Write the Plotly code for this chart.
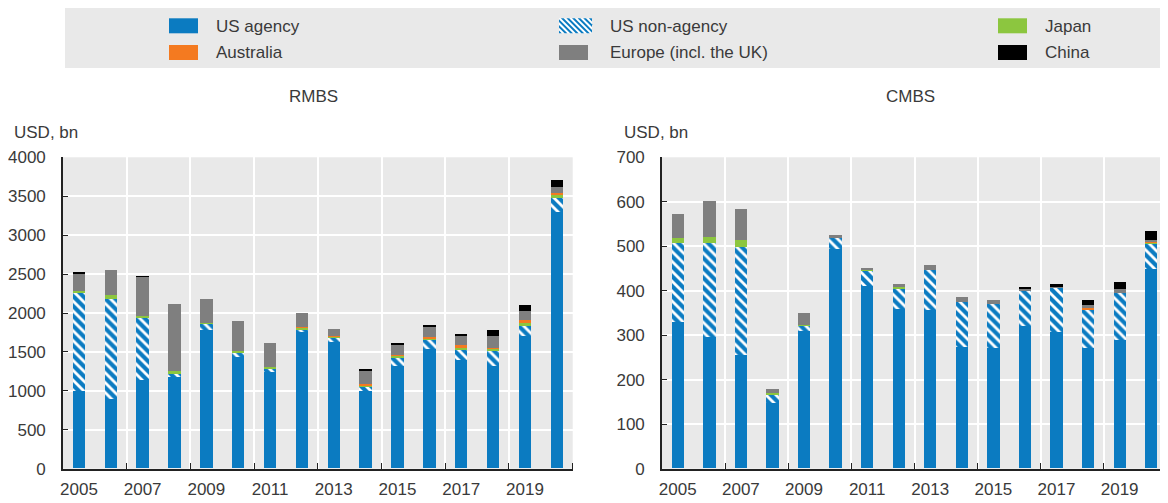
import plotly.graph_objects as go

# ---------------- data ----------------
years = list(range(2005, 2021))
tick_years = [2005, 2007, 2009, 2011, 2013, 2015, 2017, 2019]

series_names = ["US agency", "US non-agency", "Japan", "Australia", "Europe (incl. the UK)", "China"]

rmbs_us_agency = [990, 890, 1140, 1180, 1775, 1430, 1240, 1760, 1630, 990, 1320, 1540, 1395, 1320, 1705, 3290]
rmbs_us_non_agency = [1260, 1290, 800, 45, 80, 60, 45, 15, 45, 65, 110, 115, 130, 185, 130, 180]
rmbs_japan = [30, 45, 20, 20, 15, 15, 20, 35, 13, 13, 17, 13, 25, 40, 35, 40]
rmbs_australia = [0, 0, 0, 0, 0, 0, 0, 5, 15, 20, 15, 25, 38, 5, 30, 30]
rmbs_europe = [225, 325, 500, 870, 310, 390, 305, 185, 90, 170, 135, 125, 125, 145, 125, 75]
rmbs_china = [8, 0, 10, 0, 0, 0, 0, 0, 0, 17, 17, 17, 17, 80, 80, 85]

cmbs_us_agency = [330, 295, 255, 148, 309, 493, 411, 359, 357, 273, 270, 321, 306, 270, 288, 449]
cmbs_us_non_agency = [176, 211, 242, 18, 12, 24, 32, 46, 89, 101, 100, 78, 100, 87, 107, 57]
cmbs_japan = [11, 15, 17, 4, 1, 0, 5, 2, 0, 0, 0, 0, 0, 0, 0, 2]
cmbs_australia = [0, 0, 0, 0, 0, 0, 0, 0, 0, 0, 0, 0, 0, 3, 0, 3]
cmbs_europe = [55, 79, 69, 8, 28, 8, 3, 7, 12, 12, 8, 5, 2, 8, 8, 2]
cmbs_china = [0, 0, 0, 0, 0, 0, 0, 0, 0, 0, 0, 4, 6, 10, 15, 20]

# ---------------- style ----------------
# The page body has an 8px margin, so the figure starts at (8, 8) of the window.
OFF = 8
W, H = 1168 - OFF, 503 - OFF
FONT = "Liberation Sans Narrow, Arial Narrow, Liberation Sans, Arial, sans-serif"
FS = 17
TXT = "#3a3a3a"
BG = "#e9e9e9"
BLUE = "#0b7bc1"
ORANGE = "#f47a20"
GREEN = "#8cc63f"
GRAY = "#7f7f7f"
BLACK = "#000000"
colors = [BLUE, None, GREEN, ORANGE, GRAY, BLACK]


def px_x(p):
    return (p - OFF) / W


def px_y(p):
    return 1 - (p - OFF) / H


fig = go.Figure()

panels = [
    ("x", "y", [rmbs_us_agency, rmbs_us_non_agency, rmbs_japan, rmbs_australia, rmbs_europe, rmbs_china]),
    ("x2", "y2", [cmbs_us_agency, cmbs_us_non_agency, cmbs_japan, cmbs_australia, cmbs_europe, cmbs_china]),
]
for xa, ya, vals in panels:
    for name, col, v in zip(series_names, colors, vals):
        if col is None:
            marker = dict(color="white",
                          pattern=dict(shape="\\", fgcolor=BLUE, bgcolor="white", size=7, solidity=0.6),
                          line=dict(width=0))
        else:
            marker = dict(color=col, line=dict(width=0))
        fig.add_trace(go.Bar(x=years, y=v, name=name, marker=marker, width=0.39,
                             xaxis=xa, yaxis=ya, showlegend=False))

xdom1 = [px_x(63), px_x(572.7)]
xdom2 = [px_x(662), min(1.0, px_x(1167))]
ydom = [px_y(468.7), px_y(157.3)]

common_x = dict(
    type="linear", range=[2004.5, 2020.5], tickmode="array", tickvals=tick_years,
    ticktext=[str(t) for t in tick_years], showgrid=False, ticks="",
    showline=True, linecolor="#222222", linewidth=1.6, zeroline=False, automargin=False,
    tickfont=dict(family=FONT, size=FS, color=TXT), ticklabelstandoff=4,
    minor=dict(tickmode="array", tickvals=[y + 0.5 for y in range(2006, 2021, 2)],
               showgrid=True, gridcolor="white", gridwidth=1.6,
               ticks="inside", ticklen=6, tickcolor="#222222", tickwidth=1.4),
    fixedrange=True,
)
common_y = dict(
    showgrid=True, gridcolor="white", gridwidth=1.6, zeroline=False, automargin=False,
    showline=True, linecolor="#222222", linewidth=1.6,
    ticks="inside", ticklen=5, tickcolor="#222222", tickwidth=1.4,
    tickfont=dict(family=FONT, size=FS, color=TXT), ticklabelstandoff=12,
    fixedrange=True,
)

fig.update_layout(
    template="none",
    width=W, height=H, margin=dict(l=0, r=0, t=0, b=0, pad=0),
    paper_bgcolor="white", plot_bgcolor=BG, barmode="stack", bargap=0,
    showlegend=False,
    font=dict(family=FONT, size=FS, color=TXT),
    xaxis=dict(domain=xdom1, anchor="y", **common_x),
    yaxis=dict(domain=ydom, anchor="x", range=[0, 4000], dtick=500, **common_y),
    xaxis2=dict(domain=xdom2, anchor="y2", **common_x),
    yaxis2=dict(domain=ydom, anchor="x2", range=[0, 700], dtick=100, **common_y),
)

# ---------------- titles ----------------
ann = []
ann.append(dict(text="RMBS", x=px_x(313), y=px_y(96), xref="paper", yref="paper",
                xanchor="center", yanchor="middle", showarrow=False))
ann.append(dict(text="CMBS", x=px_x(910), y=px_y(96), xref="paper", yref="paper",
                xanchor="center", yanchor="middle", showarrow=False))
ann.append(dict(text="USD, bn", x=px_x(12), y=px_y(132), xref="paper", yref="paper",
                xanchor="left", yanchor="middle", showarrow=False))
ann.append(dict(text="USD, bn", x=px_x(622), y=px_y(132), xref="paper", yref="paper",
                xanchor="left", yanchor="middle", showarrow=False))

# ---------------- legend (drawn manually) ----------------
shapes = []
shapes.append(dict(type="rect", xref="paper", yref="paper", x0=px_x(65), x1=1.0,
                   y0=px_y(68), y1=1.0, fillcolor=BG, line=dict(width=0), layer="below"))

legend_items = [
    ("US agency", BLUE, 169, 214, 0),
    ("US non-agency", None, 559, 608, 0),
    ("Japan", GREEN, 998, 1043, 0),
    ("Australia", ORANGE, 169, 214, 1),
    ("Europe (incl. the UK)", GRAY, 559, 608, 1),
    ("China", BLACK, 998, 1043, 1),
]
row_top = [18.3, 45.0]
row_mid = [26.0, 52.5]
SW_W, SW_H = 29, 15


def clip(poly, f):
    out = []
    n = len(poly)
    for i in range(n):
        a = poly[i]
        b = poly[(i + 1) % n]
        fa, fb = f(a), f(b)
        if fa >= 0:
            out.append(a)
        if (fa >= 0) != (fb >= 0):
            t = fa / (fa - fb)
            out.append((a[0] + t * (b[0] - a[0]), a[1] + t * (b[1] - a[1])))
    return out


for label, col, sx, tx, row in legend_items:
    y0 = row_top[row]
    y1 = y0 + SW_H
    x0, x1 = sx, sx + (SW_W if col is not None else 33)
    if col is not None:
        shapes.append(dict(type="rect", xref="paper", yref="paper", x0=px_x(x0), x1=px_x(x1),
                           y0=px_y(y1), y1=px_y(y0), fillcolor=col, line=dict(width=0)))
    else:
        shapes.append(dict(type="rect", xref="paper", yref="paper", x0=px_x(x0), x1=px_x(x1),
                           y0=px_y(y1), y1=px_y(y0), fillcolor="white", line=dict(width=0)))
        period = 5.6
        band = period * 0.5
        rect = [(x0, y0), (x1, y0), (x1, y1), (x0, y1)]
        c = (x0 - y1) - period
        while c < (x1 - y0) + period:
            cc = c
            poly = clip(rect, lambda p, cc=cc: (p[0] - p[1]) - cc)
            poly = clip(poly, lambda p, cc=cc: cc + band - (p[0] - p[1])) if poly else []
            if len(poly) >= 3:
                path = "M " + " L ".join(f"{px_x(px):.5f},{px_y(py):.5f}" for px, py in poly) + " Z"
                shapes.append(dict(type="path", xref="paper", yref="paper", path=path,
                                   fillcolor=BLUE, line=dict(width=0)))
            c += period
    ann.append(dict(text=label, x=px_x(tx), y=px_y(row_mid[row]), xref="paper", yref="paper",
                    xanchor="left", yanchor="middle", showarrow=False))

fig.update_layout(annotations=ann, shapes=shapes)

fig.write_html("out.html")
